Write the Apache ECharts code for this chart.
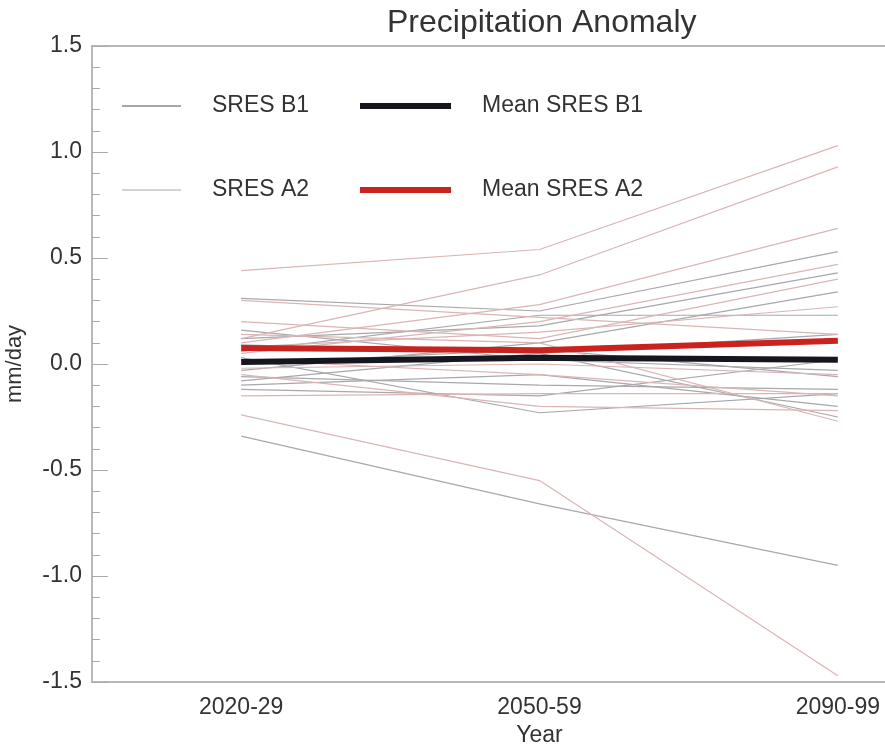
<!DOCTYPE html>
<html>
<head>
<meta charset="utf-8">
<script src="https://cdn.jsdelivr.net/npm/echarts@6/dist/echarts.min.js"></script>
<style>
  html, body { margin: 0; padding: 0; background: #fff; }
  #chart { width: 885px; height: 744px; }
</style>
</head>
<body>
<div id="chart"></div>
<script>
// 時段（橫軸類別）
const periods = ['2020-29', '2050-59', '2090-99'];

// SRES B1 各模式 [2020-29, 2050-59, 2090-99]
const b1Runs = [
  [-0.34, -0.66, -0.95],
  [0.31, 0.25, 0.53],
  [0.12, 0.18, 0.43],
  [-0.03, 0.10, 0.34],
  [0.06, 0.23, 0.23],
  [-0.08, 0.05, 0.14],
  [0.16, 0.02, -0.03],
  [-0.06, -0.10, -0.12],
  [0.03, -0.23, -0.14],
  [-0.10, -0.05, -0.20],
  [0.09, 0.05, -0.25],
  [0.00, 0.07, -0.06],
  [-0.12, -0.15, 0.02],
];

// SRES A2 各模式
const a2Runs = [
  [0.44, 0.54, 1.03],
  [-0.24, -0.55, -1.47],
  [0.12, 0.42, 0.93],
  [0.10, 0.28, 0.64],
  [0.05, 0.20, 0.47],
  [0.20, 0.12, 0.40],
  [0.08, 0.15, 0.27],
  [0.30, 0.22, 0.14],
  [0.02, -0.05, -0.15],
  [-0.15, -0.14, -0.14],
  [-0.05, -0.20, -0.22],
  [0.14, 0.10, -0.27],
  [-0.02, 0.00, -0.05],
];

// 平均
const meanB1 = [0.01, 0.03, 0.02];
const meanA2 = [0.075, 0.065, 0.11];

const FONT = 'Liberation Sans';
const axisGray = '#b8b8b8';
const textColor = '#333';

const chart = echarts.init(document.getElementById('chart'));

const thin = (name, data, color) => ({
  name,
  type: 'line',
  data,
  symbol: 'none',
  silent: true,
  z: 2,
  lineStyle: { width: 1.2, color },
  itemStyle: { color },
});

const series = [
  ...b1Runs.map(d => thin('SRES B1', d, '#a8a8ac')),
  ...a2Runs.map(d => thin('SRES A2', d, '#dbb5b5')),
  {
    name: 'Mean SRES A2', type: 'line', data: meanA2, symbol: 'none', z: 5,
    lineStyle: { width: 6, color: '#c8231f' }, itemStyle: { color: '#c8231f' },
  },
  {
    name: 'Mean SRES B1', type: 'line', data: meanB1, symbol: 'none', z: 6,
    lineStyle: { width: 6, color: '#16161e' }, itemStyle: { color: '#16161e' },
  },
];

// 圖例：四個獨立元件，方便定位
const legendBase = {
  orient: 'vertical',
  padding: 0,
  icon: 'rect',
  selectedMode: false,
  textStyle: { fontFamily: FONT, fontSize: 23, color: textColor, lineHeight: 24, padding: [0, 0, 0, 26] },
};

const option = {
  animation: false,
  backgroundColor: '#fff',
  title: {
    text: 'Precipitation Anomaly',
    left: 387,
    top: 7,
    padding: 0,
    textStyle: { fontFamily: FONT, fontSize: 32, fontWeight: 'normal', color: textColor },
  },
  legend: [
    { ...legendBase, data: ['SRES B1'], left: 122, top: 94, itemWidth: 59, itemHeight: 1.5, itemStyle: { color: '#8a8a8a' } },
    { ...legendBase, data: ['SRES A2'], left: 122, top: 178, itemWidth: 59, itemHeight: 1.5, itemStyle: { color: '#c4c4c4' } },
    { ...legendBase, data: ['Mean SRES B1'], left: 360, top: 94, itemWidth: 91, itemHeight: 6 },
    { ...legendBase, data: ['Mean SRES A2'], left: 360, top: 178, itemWidth: 91, itemHeight: 6 },
  ],
  grid: { left: 92, top: 46, width: 895, height: 636, outerBoundsMode: 'none', containLabel: false },
  xAxis: [
    {
      type: 'category',
      data: periods,
      boundaryGap: true,
      name: 'Year',
      nameLocation: 'middle',
      nameGap: 42,
      nameTextStyle: { fontFamily: FONT, fontSize: 23, color: textColor },
      axisLine: { onZero: false, lineStyle: { color: axisGray, width: 2 } },
      axisTick: { alignWithLabel: true, inside: true, length: 12, lineStyle: { color: '#999', width: 1 } },
      axisLabel: { fontFamily: FONT, fontSize: 23, color: textColor, margin: 14 },
      splitLine: { show: false },
    },
    {
      type: 'category',
      data: periods,
      position: 'top',
      boundaryGap: true,
      axisLine: { onZero: false, lineStyle: { color: axisGray, width: 2 } },
      axisTick: { alignWithLabel: true, inside: true, length: 12, lineStyle: { color: '#999', width: 1 } },
      axisLabel: { show: false },
      splitLine: { show: false },
    },
  ],
  yAxis: {
    type: 'value',
    min: -1.5,
    max: 1.5,
    interval: 0.5,
    name: 'mm/day',
    nameLocation: 'middle',
    nameGap: 66,
    nameTextStyle: { fontFamily: FONT, fontSize: 22, color: textColor },
    axisLine: { show: true, onZero: false, lineStyle: { color: axisGray, width: 2 } },
    axisTick: { show: true, inside: true, length: 16, lineStyle: { color: '#aaa', width: 1 } },
    minorTick: { show: true, splitNumber: 5, length: 8, lineStyle: { color: '#aaa', width: 1 } },
    axisLabel: {
      fontFamily: FONT, fontSize: 23, color: textColor, margin: 10,
      formatter: v => v.toFixed(1),
    },
    splitLine: { show: false },
  },
  series,
};

chart.setOption(option);
</script>
</body>
</html>
